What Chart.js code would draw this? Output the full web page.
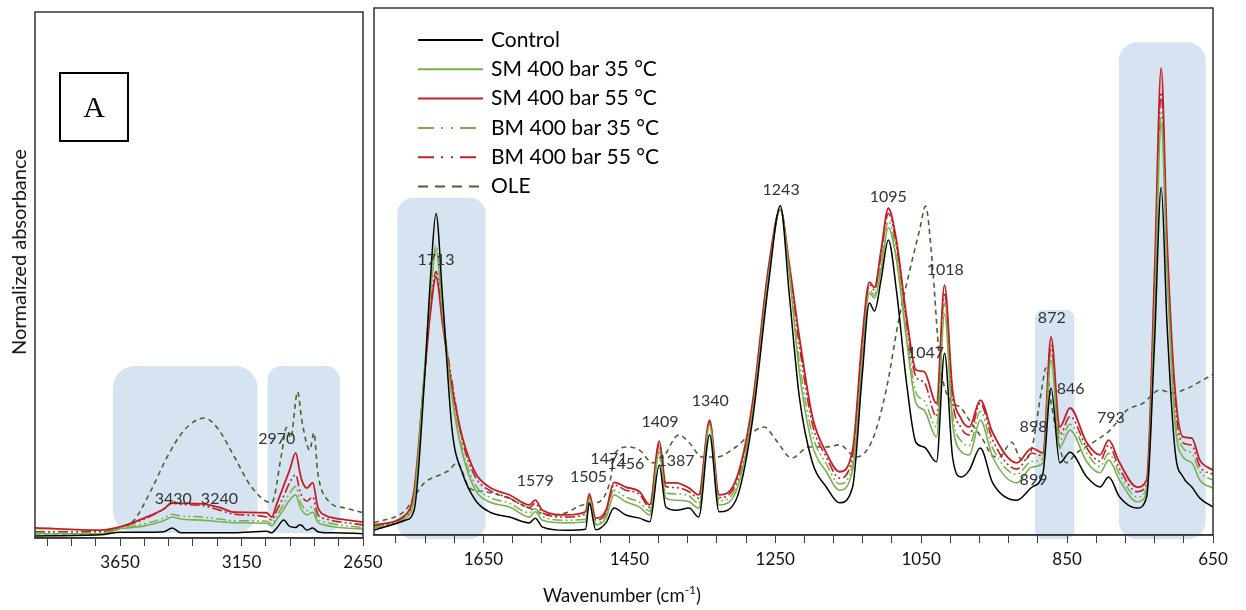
<!DOCTYPE html>
<html>
<head>
<meta charset="utf-8">
<script src="https://cdn.jsdelivr.net/npm/chart.js@4.4.0/dist/chart.umd.min.js"></script>
<style>
  body { margin: 0; background: #fff; width: 1246px; height: 610px; overflow: hidden; position: relative; font-family: Lato, sans-serif; }
  canvas { position: absolute; top: 0; }
  #left { left: 0; }
  #right { left: 334px; }
  #tagA { position: absolute; left: 59px; top: 72px; width: 70px; height: 70px; border: 2px solid #000; box-sizing: border-box;
          font: 30px 'Liberation Serif', serif; display: flex; align-items: center; justify-content: center; }
  #ytitle { position: absolute; left: 18px; top: 252px; transform: translate(-50%, -50%) rotate(-90deg); white-space: nowrap; font-size: 20px; color: #111; }
  #xtitle { position: absolute; left: 622px; top: 594px; transform: translate(-50%, -50%); white-space: nowrap; font-size: 18.5px; color: #111; }
  #xtitle sup { font-size: 12px; }
</style>
</head>
<body>
<canvas id="left" width="400" height="610"></canvas>
<canvas id="right" width="912" height="610"></canvas>
<div id="tagA">A</div>
<div id="ytitle">Normalized absorbance</div>
<div id="xtitle">Wavenumber (cm<sup>-1</sup>)</div>
<script>
// right panel, 1800-650 cm-1
const wnRight = [1800, 1757, 1745, 1731, 1722, 1715, 1706, 1693, 1679, 1661,
  1642, 1614, 1587, 1579, 1569, 1537, 1510, 1505, 1496, 1482,
  1471, 1455, 1436, 1422, 1409, 1400, 1386, 1368, 1355, 1340,
  1327, 1304, 1282, 1259, 1243, 1231, 1217, 1199, 1180, 1162,
  1144, 1131, 1121, 1114, 1105, 1095, 1084, 1070, 1057, 1046,
  1029, 1018, 1007, 995, 984, 969, 952, 919, 898, 883,
  872, 860, 846, 823, 805, 793, 778, 754, 741, 730,
  721, 713, 702, 691, 679, 668, 650]
const controlRight = [0.009, 0.028, 0.047, 0.29, 0.50, 0.61, 0.45, 0.20, 0.118, 0.066,
  0.044, 0.034, 0.023, 0.032, 0.015, 0.009, 0.011, 0.061, 0.010, 0.023,
  0.051, 0.038, 0.032, 0.025, 0.133, 0.053, 0.047, 0.051, 0.034, 0.190,
  0.044, 0.066, 0.210, 0.480, 0.625, 0.460, 0.262, 0.137, 0.091, 0.061,
  0.091, 0.300, 0.440, 0.425, 0.484, 0.560, 0.465, 0.288, 0.175, 0.167,
  0.139, 0.345, 0.148, 0.110, 0.123, 0.165, 0.099, 0.066, 0.091, 0.118,
  0.279, 0.137, 0.157, 0.110, 0.091, 0.110, 0.072, 0.051, 0.072, 0.370,
  0.660, 0.400, 0.160, 0.110, 0.091, 0.070, 0.053]
const sm35Right = [0.013, 0.032, 0.070, 0.31, 0.47, 0.54, 0.42, 0.26, 0.156, 0.085,
  0.063, 0.053, 0.034, 0.044, 0.028, 0.023, 0.025, 0.070, 0.019, 0.032,
  0.076, 0.063, 0.053, 0.038, 0.158, 0.070, 0.066, 0.063, 0.051, 0.209,
  0.057, 0.082, 0.224, 0.493, 0.618, 0.500, 0.310, 0.170, 0.120, 0.085,
  0.123, 0.326, 0.459, 0.450, 0.503, 0.583, 0.522, 0.370, 0.250, 0.237,
  0.186, 0.420, 0.212, 0.158, 0.152, 0.218, 0.148, 0.099, 0.129, 0.137,
  0.332, 0.167, 0.199, 0.139, 0.118, 0.142, 0.104, 0.063, 0.080, 0.433,
  0.780, 0.500, 0.212, 0.148, 0.137, 0.104, 0.089]
const sm55Right = [0.019, 0.038, 0.085, 0.30, 0.43, 0.49, 0.40, 0.28, 0.186, 0.118,
  0.091, 0.076, 0.057, 0.066, 0.047, 0.038, 0.044, 0.078, 0.032, 0.047,
  0.100, 0.091, 0.082, 0.057, 0.178, 0.099, 0.099, 0.089, 0.076, 0.218,
  0.076, 0.104, 0.243, 0.510, 0.618, 0.516, 0.376, 0.224, 0.156, 0.120,
  0.161, 0.370, 0.480, 0.470, 0.540, 0.620, 0.560, 0.414, 0.313, 0.310,
  0.250, 0.474, 0.275, 0.220, 0.205, 0.256, 0.194, 0.137, 0.165, 0.156,
  0.376, 0.205, 0.241, 0.175, 0.152, 0.180, 0.137, 0.091, 0.104, 0.500,
  0.886, 0.560, 0.275, 0.186, 0.184, 0.142, 0.123]
const bm35Right = [0.015, 0.035, 0.075, 0.30, 0.47, 0.55, 0.43, 0.27, 0.165, 0.095,
  0.072, 0.060, 0.042, 0.050, 0.035, 0.028, 0.030, 0.072, 0.022, 0.038,
  0.085, 0.072, 0.062, 0.045, 0.165, 0.080, 0.078, 0.074, 0.060, 0.212,
  0.065, 0.090, 0.230, 0.500, 0.618, 0.505, 0.330, 0.190, 0.135, 0.097,
  0.135, 0.340, 0.465, 0.455, 0.515, 0.595, 0.535, 0.385, 0.270, 0.255,
  0.205, 0.440, 0.230, 0.178, 0.170, 0.235, 0.165, 0.115, 0.140, 0.145,
  0.345, 0.180, 0.210, 0.155, 0.130, 0.155, 0.115, 0.072, 0.088, 0.450,
  0.800, 0.520, 0.230, 0.165, 0.155, 0.120, 0.104]
const bm55Right = [0.017, 0.036, 0.080, 0.30, 0.44, 0.50, 0.41, 0.29, 0.180, 0.110,
  0.085, 0.070, 0.052, 0.060, 0.042, 0.034, 0.040, 0.075, 0.028, 0.043,
  0.095, 0.085, 0.077, 0.052, 0.172, 0.092, 0.090, 0.082, 0.070, 0.215,
  0.071, 0.097, 0.237, 0.505, 0.618, 0.510, 0.360, 0.210, 0.148, 0.108,
  0.150, 0.360, 0.475, 0.465, 0.530, 0.610, 0.550, 0.400, 0.300, 0.290,
  0.225, 0.460, 0.255, 0.203, 0.190, 0.250, 0.180, 0.125, 0.155, 0.150,
  0.360, 0.190, 0.225, 0.165, 0.140, 0.170, 0.125, 0.082, 0.095, 0.480,
  0.840, 0.540, 0.250, 0.175, 0.170, 0.130, 0.115]
const wnOleRight = [1800, 1757, 1745, 1731, 1710, 1697, 1686, 1669, 1647, 1620,
  1587, 1559, 1537, 1514, 1491, 1477, 1469, 1452, 1436, 1418,
  1405, 1382, 1368, 1350, 1331, 1304, 1282, 1265, 1249, 1227,
  1204, 1180, 1162, 1139, 1117, 1098, 1080, 1066, 1052, 1044,
  1035, 1025, 1011, 997, 984, 965, 952, 943, 926, 912,
  899, 885, 879, 871, 851, 837, 815, 791, 768, 746,
  723, 705, 684, 664, 650]
const oleRight = [0.023, 0.047, 0.072, 0.099, 0.114, 0.123, 0.137, 0.089, 0.082, 0.072,
  0.051, 0.038, 0.042, 0.057, 0.063, 0.099, 0.156, 0.167, 0.161, 0.137,
  0.145, 0.190, 0.175, 0.148, 0.148, 0.167, 0.194, 0.205, 0.180, 0.146,
  0.167, 0.167, 0.171, 0.148, 0.180, 0.275, 0.414, 0.500, 0.580, 0.624,
  0.520, 0.338, 0.256, 0.243, 0.218, 0.180, 0.150, 0.148, 0.176, 0.142,
  0.161, 0.275, 0.317, 0.243, 0.137, 0.156, 0.175, 0.199, 0.237, 0.250,
  0.275, 0.270, 0.279, 0.294, 0.305]

// left panel, 4000-2650 cm-1
const wnLeft = [4000, 3730, 3650, 3550, 3470, 3435, 3400, 3315, 3240, 3179, 3047, 3026,
  3005, 2976, 2952, 2927, 2910, 2902, 2881, 2857, 2836, 2800, 2766, 2650]
const controlLeft = [0.004, 0.006, 0.011, 0.011, 0.012, 0.019, 0.010, 0.010, 0.010, 0.010, 0.013, 0.010,
  0.019, 0.034, 0.022, 0.020, 0.025, 0.024, 0.015, 0.019, 0.012, 0.010, 0.010, 0.008]
const sm35Left = [0.008, 0.008, 0.017, 0.023, 0.033, 0.040, 0.036, 0.034, 0.031, 0.029, 0.028, 0.023,
  0.035, 0.055, 0.072, 0.082, 0.060, 0.053, 0.044, 0.049, 0.030, 0.024, 0.021, 0.017]
const sm55Left = [0.019, 0.015, 0.021, 0.038, 0.055, 0.067, 0.066, 0.065, 0.058, 0.049, 0.048, 0.040,
  0.065, 0.100, 0.129, 0.162, 0.125, 0.110, 0.095, 0.105, 0.059, 0.042, 0.038, 0.030]
const bm35Left = [0.010, 0.010, 0.018, 0.027, 0.038, 0.045, 0.042, 0.040, 0.036, 0.033, 0.032, 0.027,
  0.042, 0.065, 0.085, 0.098, 0.072, 0.063, 0.052, 0.060, 0.036, 0.029, 0.026, 0.020]
const bm55Left = [0.012, 0.012, 0.020, 0.036, 0.055, 0.066, 0.064, 0.062, 0.053, 0.045, 0.040, 0.034,
  0.052, 0.080, 0.105, 0.120, 0.090, 0.080, 0.070, 0.078, 0.045, 0.036, 0.032, 0.025]
const wnOleLeft = [4000, 3730, 3646, 3592, 3522, 3456, 3386, 3303, 3249, 3179, 3109, 3026,
  2985, 2965, 2948, 2919, 2902, 2869, 2852, 2836, 2795, 2724, 2650]
const oleLeft = [0.008, 0.008, 0.021, 0.034, 0.091, 0.154, 0.205, 0.228, 0.209, 0.154, 0.097, 0.067,
  0.160, 0.210, 0.190, 0.278, 0.224, 0.167, 0.200, 0.124, 0.072, 0.057, 0.048]

// peak labels
const rightNoteText = ['1713', '1243', '1095', '1018', '1047', '872', '846', '898', '899', '793',
  '1340', '1409', '1387', '1471', '1456', '1505', '1579']
const rightNoteWn = [1715, 1242, 1095, 1017, 1044, 871, 845, 896, 896, 790, 1339, 1408, 1386, 1478, 1455, 1506, 1579]
const rightNoteY = [0.522, 0.655, 0.641, 0.503, 0.345, 0.412, 0.277, 0.205, 0.104, 0.222, 0.254, 0.214, 0.140, 0.144, 0.135, 0.110, 0.102]
const leftNoteText = ['3430', '3240', '2970']
const leftNoteWn = [3431, 3241, 3005]
const leftNoteY = [0.074, 0.074, 0.188]

const seriesNames = ['Control', 'SM 400 bar 35 °C', 'SM 400 bar 55 °C', 'BM 400 bar 35 °C', 'BM 400 bar 55 °C', 'OLE']

const GREEN = '#78B04E', RED = '#C41E25'
const styles = [
  { color: '#000000', width: 1.5, dash: [], legendDash: [] },
  { color: GREEN, width: 1.6, dash: [], legendDash: [] },
  { color: RED, width: 1.8, dash: [], legendDash: [] },
  { color: GREEN, width: 1.5, dash: [10, 3, 2, 3, 2, 3], legendDash: [16, 7, 2, 8, 2, 7] },
  { color: RED, width: 1.6, dash: [10, 3, 2, 3, 2, 3], legendDash: [16, 7, 2, 8, 2, 7] },
  { color: '#4A6431', width: 1.6, dash: [5, 4], legendDash: [10, 7] }
]

const toPoints = (xs, ys) => xs.map((x, i) => ({ x, y: ys[i] }))

const buildDatasets = (wn, series, wnOle, ole) =>
  seriesNames.map((name, i) => ({
    label: name,
    data: i < 5 ? toPoints(wn, series[i]) : toPoints(wnOle, ole),
    borderColor: styles[i].color,
    borderWidth: styles[i].width,
    borderDash: styles[i].dash,
    pointRadius: 0,
    fill: false,
    cubicInterpolationMode: 'monotone'
  }))

const xAxis = (min, max, minor, major, height) => ({
  type: 'linear', reverse: true, min, max,
  afterBuildTicks: axis => {
    const t = []
    for (let v = min; v <= max; v += minor) t.push({ value: v })
    axis.ticks = t
  },
  afterFit: axis => { axis.height = height },
  ticks: {
    autoSkip: false, maxRotation: 0, padding: 6, color: '#111',
    font: { family: 'Lato', size: 17 },
    callback: v => ((v - min) % major === 0 ? String(v) : '')
  },
  grid: { drawOnChartArea: false, drawTicks: true, tickLength: 8, color: '#404040', lineWidth: 1 },
  border: { display: true, color: '#404040', width: 1.5 }
})

const panelPlugin = (boxes, notes, withLegend) => ({
  id: 'panel',
  beforeDraw(chart) {
    const { ctx, scales: { x, y } } = chart
    ctx.save()
    ctx.fillStyle = '#D6E4F2'
    boxes.forEach(b => {
      const l = x.getPixelForValue(b.from), r = x.getPixelForValue(b.to)
      const t = y.getPixelForValue(b.top), bt = y.getPixelForValue(b.bottom)
      ctx.beginPath()
      ctx.roundRect(l, t, r - l, bt - t, b.r)
      ctx.fill()
    })
    ctx.restore()
  },
  afterDatasetsDraw(chart) {
    const { ctx, scales: { x, y } } = chart
    ctx.save()
    ctx.fillStyle = '#333'
    ctx.font = '16px Lato'
    ctx.textAlign = 'center'
    ctx.textBaseline = 'middle'
    notes.text.forEach((t, i) => ctx.fillText(t, x.getPixelForValue(notes.wn[i]), y.getPixelForValue(notes.y[i])))
    ctx.restore()
  },
  afterDraw(chart) {
    const { ctx, chartArea: a } = chart
    ctx.save()
    ctx.strokeStyle = '#333'
    ctx.lineWidth = 1.5
    ctx.strokeRect(a.left, a.top, a.right - a.left, a.bottom - a.top)
    if (withLegend) {
      ctx.font = '21px Lato'
      ctx.textBaseline = 'middle'
      ctx.fillStyle = '#000'
      seriesNames.forEach((name, i) => {
        const yy = a.top + 32 + i * 29.3
        ctx.strokeStyle = styles[i].color
        ctx.lineWidth = 2
        ctx.setLineDash(styles[i].legendDash)
        ctx.beginPath()
        ctx.moveTo(a.left + 44, yy)
        ctx.lineTo(a.left + 109, yy)
        ctx.stroke()
        ctx.fillText(name, a.left + 117, yy)
      })
    }
    ctx.restore()
  }
})

const baseOptions = (padding, x) => ({
  responsive: false, animation: false, devicePixelRatio: 1, events: [],
  layout: { padding },
  plugins: { legend: { display: false }, tooltip: { enabled: false } },
  scales: { x, y: { display: false, min: 0, max: 1 } }
})

Chart.defaults.font.family = 'Lato'

new Chart(document.getElementById('left'), {
  type: 'line',
  data: { datasets: buildDatasets(wnLeft, [controlLeft, sm35Left, sm55Left, bm35Left, bm55Left], wnOleLeft, oleLeft) },
  options: baseOptions({ left: 35, right: 37, top: 12, bottom: 0 }, xAxis(2650, 4000, 100, 500, 72)),
  plugins: [panelPlugin(
    [{ from: 3679, to: 3084, top: 0.327, bottom: 0.0095, r: 22 }, { from: 3043, to: 2745, top: 0.327, bottom: 0.0095, r: 14 }],
    { text: leftNoteText, wn: leftNoteWn, y: leftNoteY }, false)]
})

new Chart(document.getElementById('right'), {
  type: 'line',
  data: { datasets: buildDatasets(wnRight, [controlRight, sm35Right, sm55Right, bm35Right, bm55Right], wnOleRight, oleRight) },
  options: baseOptions({ left: 40, right: 33, top: 8, bottom: 0 }, xAxis(650, 1800, 40, 200, 75)),
  plugins: [panelPlugin(
    [{ from: 1768, to: 1647, top: 0.64, bottom: -0.008, r: 16 },
     { from: 894, to: 840, top: 0.427, bottom: -0.008, r: 8 },
     { from: 779, to: 660, top: 0.935, bottom: -0.008, r: 18 }],
    { text: rightNoteText, wn: rightNoteWn, y: rightNoteY }, true)]
})
</script>
</body>
</html>
